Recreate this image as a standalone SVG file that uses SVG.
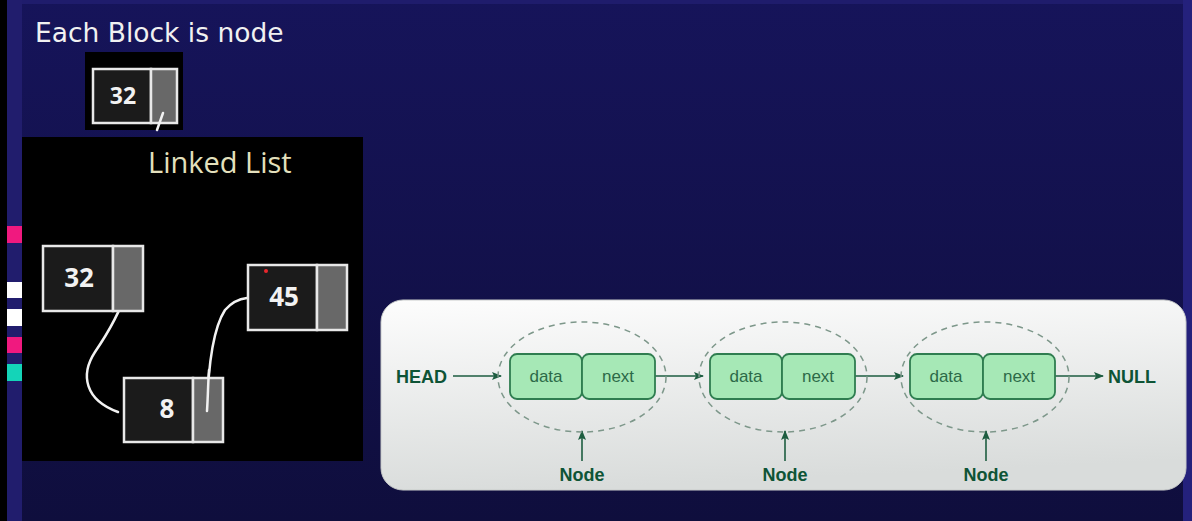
<svg xmlns="http://www.w3.org/2000/svg" width="1192" height="521" viewBox="0 0 1192 521">
<style>
.num{font-family:"Open Sans","DejaVu Sans",sans-serif;font-weight:700;fill:#f2f2f2;text-anchor:middle}
.cell-d{fill:#1b1b1b;stroke:#e8e8e8;stroke-width:2.5}
.cell-p{fill:#686868;stroke:#e8e8e8;stroke-width:2.5}
.link{fill:none;stroke:#f2f2f2;stroke-width:2.5;stroke-linecap:round}
.gbox{fill:#a6e8b6;stroke:#2f7d50;stroke-width:1.8}
.gtxt{font-family:"Liberation Sans",Arial,sans-serif;font-size:17px;fill:#2c6a48;text-anchor:middle}
.glbl{font-family:"Liberation Sans",Arial,sans-serif;font-size:18px;font-weight:bold;fill:#0e5436}
.ell{fill:none;stroke:#7d978a;stroke-width:1.5;stroke-dasharray:6 5}
.garr{stroke:#1d5d40;stroke-width:1.6;fill:none;marker-end:url(#ah)}
</style>
<defs>
<linearGradient id="bg" x1="0" y1="0" x2="0" y2="1">
<stop offset="0" stop-color="#16145a"/>
<stop offset="1" stop-color="#0f0e3d"/>
</linearGradient>
<linearGradient id="wp" x1="0" y1="0" x2="0.2" y2="1">
<stop offset="0" stop-color="#fdfdfd"/>
<stop offset="1" stop-color="#d9dcdb"/>
</linearGradient>
<marker id="ah" viewBox="0 0 10 10" refX="9" refY="5" markerWidth="10" markerHeight="10" orient="auto" markerUnits="userSpaceOnUse">
<path d="M0,1 L10,5 L0,9 L2,5 Z" fill="#1d5d40"/>
</marker>
</defs>

<!-- background -->
<rect x="0" y="0" width="1192" height="521" fill="url(#bg)"/>
<rect x="0" y="0" width="1192" height="4" fill="#1f1c6c"/>
<rect x="1183" y="0" width="9" height="521" fill="#24217c"/>
<rect x="7" y="0" width="15" height="521" fill="#211d6d"/>
<rect x="0" y="0" width="7" height="521" fill="#000000"/>

<!-- side markers -->
<g id="markers">
<rect x="7" y="226" width="16" height="17" fill="#f0197f"/>
<rect x="7" y="282" width="16" height="16" fill="#ffffff"/>
<rect x="7" y="309" width="16" height="17" fill="#ffffff"/>
<rect x="7" y="337" width="16" height="16" fill="#f0197f"/>
<rect x="7" y="364" width="16" height="17" fill="#14d4b8"/>
</g>

<text x="35" y="42" font-family="DejaVu Sans, sans-serif" font-size="26.5" fill="#f1f1f1">Each Block is node</text>

<!-- single node demo -->
<g id="demo-node">
<rect x="85" y="52" width="98" height="78" fill="#000"/>
<rect class="cell-d" x="93" y="69" width="58" height="54"/>
<rect class="cell-p" x="151" y="69" width="26" height="54"/>
<text class="num" x="123" y="104" font-size="23">32</text>
<line class="link" x1="163" y1="113" x2="157" y2="130"/>
</g>

<!-- black panel -->
<rect x="22" y="137" width="341" height="324" fill="#000"/>
<text x="148" y="173" font-family="Open Sans, sans-serif" font-size="29" fill="#e4e0bd">Linked List</text>

<g id="connectors-ll">
<path class="link" d="M127,290 C120,312 110,330 95,352 C80,375 85,400 118,412"/>
<path class="link" d="M207,411 C208,370 212,330 225,310 C232,302 238,299 247,298"/>
</g>

<g id="node-32">
<rect class="cell-d" x="43" y="246" width="70" height="65"/>
<rect class="cell-p" x="113" y="246" width="30" height="65"/>
<text class="num" x="79" y="287" font-size="26">32</text>
</g>
<g id="node-45">
<rect class="cell-d" x="248" y="265" width="69" height="65"/>
<rect class="cell-p" x="317" y="265" width="30" height="65"/>
<text class="num" x="284" y="306" font-size="26">45</text>
<circle cx="266" cy="271" r="2" fill="#e8262c"/>
</g>
<g id="node-8">
<rect class="cell-d" x="124" y="378" width="69" height="64"/>
<rect class="cell-p" x="193" y="378" width="30" height="64"/>
<text class="num" x="167" y="418" font-size="26">8</text>
</g>
<path class="link" d="M207,411 C208,395 208,385 209,370"/>

<!-- white panel -->
<rect x="381" y="300" width="805" height="190" rx="22" fill="url(#wp)" stroke="#c9cccb" stroke-width="1"/>

<g id="connectors">
<line class="garr" x1="453" y1="376" x2="501" y2="376"/>
<line class="garr" x1="655" y1="376" x2="703" y2="376"/>
<line class="garr" x1="855" y1="376" x2="903" y2="376"/>
<line class="garr" x1="1055" y1="376" x2="1103" y2="376"/>
<line class="garr" x1="582" y1="461" x2="582" y2="431"/>
<line class="garr" x1="785" y1="461" x2="785" y2="431"/>
<line class="garr" x1="986" y1="461" x2="986" y2="431"/>
</g>

<text class="glbl" x="396" y="383">HEAD</text>
<text class="glbl" x="1108" y="383">NULL</text>

<g id="g-node-1">
<ellipse class="ell" cx="582" cy="377" rx="84" ry="55"/>
<rect class="gbox" x="510" y="354" width="72" height="45" rx="7"/>
<rect class="gbox" x="582" y="354" width="73" height="45" rx="7"/>
<text class="gtxt" x="546" y="382">data</text>
<text class="gtxt" x="618" y="382">next</text>
<text class="glbl" x="582" y="481" text-anchor="middle">Node</text>
</g>
<g id="g-node-2">
<ellipse class="ell" cx="783" cy="377" rx="84" ry="55"/>
<rect class="gbox" x="710" y="354" width="72" height="45" rx="7"/>
<rect class="gbox" x="782" y="354" width="73" height="45" rx="7"/>
<text class="gtxt" x="746" y="382">data</text>
<text class="gtxt" x="818" y="382">next</text>
<text class="glbl" x="785" y="481" text-anchor="middle">Node</text>
</g>
<g id="g-node-3">
<ellipse class="ell" cx="985" cy="377" rx="84" ry="55"/>
<rect class="gbox" x="910" y="354" width="73" height="45" rx="7"/>
<rect class="gbox" x="983" y="354" width="72" height="45" rx="7"/>
<text class="gtxt" x="946" y="382">data</text>
<text class="gtxt" x="1019" y="382">next</text>
<text class="glbl" x="986" y="481" text-anchor="middle">Node</text>
</g>
</svg>
